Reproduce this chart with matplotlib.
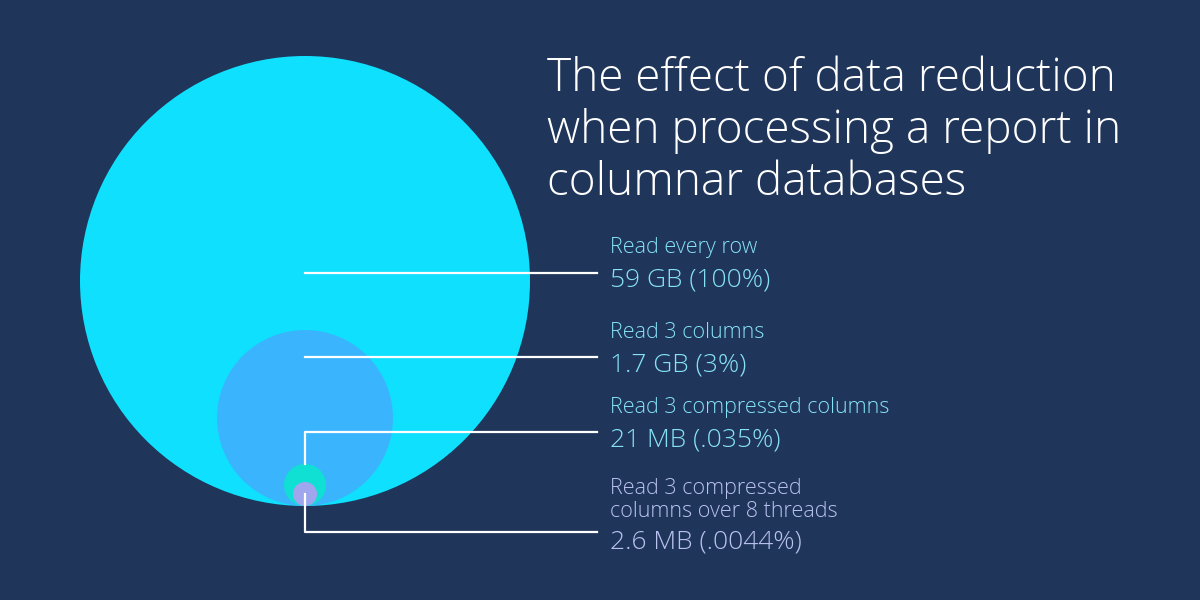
import matplotlib.pyplot as plt
from matplotlib.patches import Circle

# data
steps = ['Read every row', 'Read 3 columns', 'Read 3 compressed columns',
         'Read 3 compressed\ncolumns over 8 threads']
sizes = ['59 GB (100%)', '1.7 GB (3%)', '21 MB (.035%)', '2.6 MB (.0044%)']
radius = [225, 88, 21, 12]          # drawn radius in px (illustrative, not to scale)

bg = '#1f3559'
fills = ['#0fe0fe', '#3ab5fd', '#10dfd4', '#9fa6ee']
text_cols = ['#86e2f6', '#86e2f6', '#86e2f6', '#b9c2f0']

fig = plt.figure(figsize=(12, 6), dpi=100, facecolor=bg)
ax = fig.add_axes([0, 0, 1, 1])
ax.set_xlim(0, 1200)
ax.set_ylim(600, 0)
ax.set_aspect('equal')
ax.axis('off')
ax.set_facecolor(bg)

cx, bottom = 305, 506
for r, c in zip(radius, fills):
    ax.add_patch(Circle((cx, bottom - r), r, color=c, lw=0))

font = ['Open Sans', 'DejaVu Sans']

# title
ax.text(547, 56, 'The effect of data reduction\nwhen processing a report in\ncolumnar databases',
        color='white', fontsize=33, family=font, fontweight='light',
        va='top', ha='left', linespacing=1.17)

# leader lines
lw = 1.6
lx = 597
ax.plot([cx, lx], [273, 273], color='white', lw=lw)
ax.plot([cx, lx], [357, 357], color='white', lw=lw)
ax.plot([cx, cx, lx], [bottom - 2 * radius[2], 432, 432], color='white', lw=lw)
ax.plot([cx, cx, lx], [bottom - radius[3], 532, 532], color='white', lw=lw)

# labels
tx = 610
step_y = [248, 333, 408, 500]
size_y = [280, 365, 440, 542]
for s, v, sy, vy, c in zip(steps, sizes, step_y, size_y, text_cols):
    ax.text(tx, sy, s, color=c, fontsize=15.5, family=font, fontweight='light',
            va='center', ha='left', linespacing=1.12)
    ax.text(tx, vy, v, color=c, fontsize=19, family=font, fontweight='light',
            va='center', ha='left')

fig.savefig('out.png', dpi=100, facecolor=bg)
